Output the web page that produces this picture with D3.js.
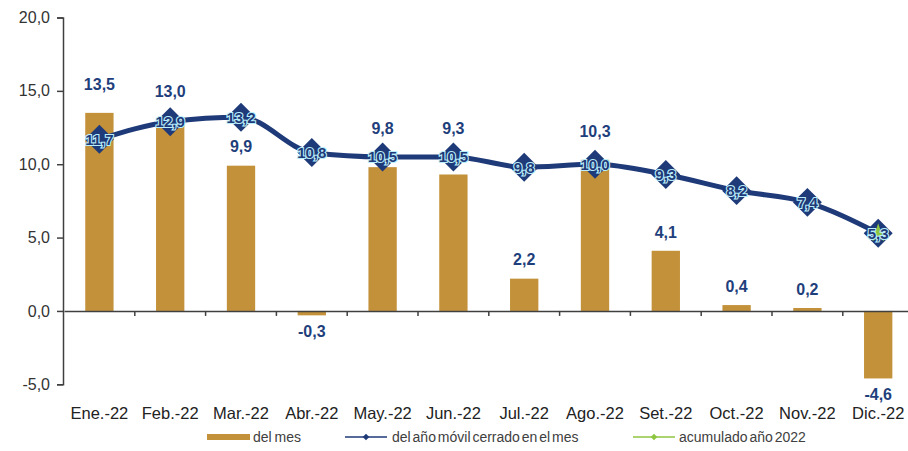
<!DOCTYPE html>
<html>
<head>
<meta charset="utf-8">
<script src="https://cdn.jsdelivr.net/npm/d3@7"></script>
<style>
  body { margin: 0; background: #fff; }
  svg { display: block; font-family: "Liberation Sans", Arial, sans-serif; }
</style>
</head>
<body>
<script>
// data
const months = ["Ene.-22", "Feb.-22", "Mar.-22", "Abr.-22", "May.-22", "Jun.-22",
                "Jul.-22", "Ago.-22", "Set.-22", "Oct.-22", "Nov.-22", "Dic.-22"];
const delMes = [13.5, 13.0, 9.9, -0.3, 9.8, 9.3, 2.2, 10.3, 4.1, 0.4, 0.2, -4.6];
const anoMovil = [11.7, 12.9, 13.2, 10.8, 10.5, 10.5, 9.8, 10.0, 9.3, 8.2, 7.4, 5.3];
const acumulado = [{ mes: "Dic.-22", v: 5.3 }];
const yTicks = [-5, 0, 5, 10, 15, 20];
const legendNames = ["del mes", "del año móvil cerrado en el mes", "acumulado año 2022"];

const W = 908, H = 451;
const gold = "#c39139", navy = "#1f3a78", green = "#8fc641", axisCol = "#404040";
const loc = d3.formatLocale({ decimal: ",", thousands: ".", grouping: [3], currency: ["", ""], minus: "-" });
const fmt = loc.format(".1f");

const svg = d3.select("body").append("svg")
    .attr("width", W)
    .attr("height", H);

const x = d3.scaleBand().domain(months).range([64, 913.6]).paddingInner(0).paddingOuter(0);
const y = d3.scaleLinear().domain([-5, 20]).range([384.3, 17.5]);
const cx = m => x(m) + x.bandwidth() / 2;
const barW = x.bandwidth() * 0.4;

// bars
svg.append("g").selectAll("rect")
    .data(months)
    .enter()
    .append("rect")
    .attr("x", (d) => cx(d) - barW / 2)
    .attr("width", barW)
    .attr("y", (d, i) => y(Math.max(0, delMes[i])))
    .attr("height", (d, i) => Math.abs(y(delMes[i]) - y(0)))
    .attr("fill", gold);

// y axis
const yAxis = svg.append("g")
    .attr("transform", "translate(63,0)")
    .call(d3.axisLeft(y).tickValues(yTicks).tickSize(6).tickPadding(7).tickFormat(fmt));
yAxis.select(".domain").attr("stroke", axisCol).attr("stroke-width", 1.5);
yAxis.selectAll(".tick line").attr("stroke", axisCol).attr("stroke-width", 1.5);
yAxis.selectAll(".tick text")
    .attr("fill", "#333")
    .style("font-size", "16px");

// x axis on zero line
const xAxis = svg.append("g")
    .attr("transform", `translate(0,${y(0)})`)
    .call(d3.axisBottom(x).tickSize(0).tickFormat(""));
xAxis.select(".domain").attr("stroke", axisCol).attr("stroke-width", 1.5);
svg.append("g").selectAll("line")
    .data(months.slice(1))
    .enter()
    .append("line")
    .attr("x1", d => x(d)).attr("x2", d => x(d))
    .attr("y1", y(0)).attr("y2", y(0) + 5)
    .attr("stroke", axisCol).attr("stroke-width", 1.5);

// month labels
svg.append("g").selectAll("text")
    .data(months)
    .enter()
    .append("text")
    .attr("x", d => cx(d))
    .attr("y", 419)
    .attr("text-anchor", "middle")
    .attr("fill", "#222")
    .style("font-size", "16.5px")
    .text(d => d);

// line
const line = d3.line()
    .x((d, i) => cx(months[i]))
    .y(d => y(d))
    .curve(d3.curveMonotoneX);
svg.append("path")
    .datum(anoMovil)
    .attr("d", line)
    .attr("fill", "none")
    .attr("stroke", navy)
    .attr("stroke-width", 5);

const diamond = d3.symbol().type(d3.symbolSquare).size(420);
svg.append("g").selectAll("path")
    .data(anoMovil)
    .enter()
    .append("path")
    .attr("d", diamond)
    .attr("transform", (d, i) => `translate(${cx(months[i])},${y(d)}) rotate(45)`)
    .attr("fill", navy);

// accumulated point
const star = d3.symbol().type(d3.symbolStar).size(110);
svg.append("g").selectAll("path")
    .data(acumulado)
    .enter()
    .append("path")
    .attr("d", star)
    .attr("transform", d => `translate(${cx(d.mes)},${y(d.v)})`)
    .attr("fill", green);

// labels of the line, inside the markers
svg.append("g").selectAll("text")
    .data(anoMovil)
    .enter()
    .append("text")
    .attr("x", (d, i) => cx(months[i]))
    .attr("y", d => y(d))
    .attr("dy", "0.36em")
    .attr("text-anchor", "middle")
    .attr("fill", navy)
    .attr("stroke", "#b8eefc")
    .attr("stroke-width", 2.2)
    .attr("paint-order", "stroke")
    .style("font-size", "15px")
    .style("font-weight", "bold")
    .text(fmt);

// labels of the bars
function barLabelY(v, i) {
    if (v < 0) return y(v) + 16;
    const top = y(v), ly = y(anoMovil[i]);
    if (Math.abs(top - ly) < 40) return Math.min(top, ly) - 29;
    return top - 19;
}
svg.append("g").selectAll("text")
    .data(delMes)
    .enter()
    .append("text")
    .attr("x", (d, i) => cx(months[i]))
    .attr("y", (d, i) => barLabelY(d, i))
    .attr("dy", "0.36em")
    .attr("text-anchor", "middle")
    .attr("fill", "#1f3f7c")
    .style("font-size", "16px")
    .style("font-weight", "bold")
    .text(fmt);

// legend
const lg = svg.append("g").style("font-size", "14px").attr("fill", axisCol);
lg.append("rect").attr("x", 207).attr("y", 434).attr("width", 43).attr("height", 6).attr("fill", gold);
lg.append("text").attr("x", 253).attr("y", 442).attr("word-spacing", "-1px").text(legendNames[0]);

lg.append("line").attr("x1", 345).attr("x2", 387).attr("y1", 437).attr("y2", 437)
    .attr("stroke", navy).attr("stroke-width", 1.5);
lg.append("path").attr("d", d3.symbol().type(d3.symbolSquare).size(22))
    .attr("transform", "translate(366,437) rotate(45)").attr("fill", navy);
lg.append("text").attr("x", 392).attr("y", 442).attr("word-spacing", "-2px").text(legendNames[1]);

lg.append("line").attr("x1", 633).attr("x2", 675).attr("y1", 437).attr("y2", 437)
    .attr("stroke", green).attr("stroke-width", 1.5);
lg.append("path").attr("d", d3.symbol().type(d3.symbolSquare).size(22))
    .attr("transform", "translate(654,437) rotate(45)").attr("fill", green);
lg.append("text").attr("x", 679).attr("y", 442).attr("word-spacing", "-2px").text(legendNames[2]);
</script>
</body>
</html>
